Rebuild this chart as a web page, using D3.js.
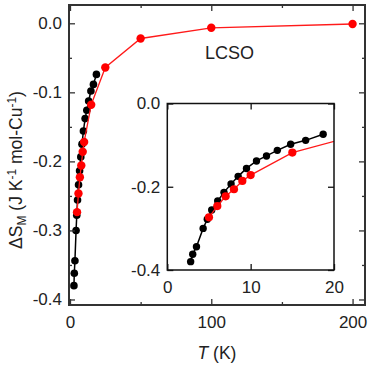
<!DOCTYPE html>
<html>
<head>
<meta charset="utf-8">
<script src="https://cdn.jsdelivr.net/npm/d3@7"></script>
<style>
  body { margin: 0; background: #fff; }
  svg text { font-family: "Liberation Sans", Arial, sans-serif; fill: #222; }
</style>
</head>
<body>
<svg id="chart"></svg>
<script>
// black series (T in K, dS in J/K/mol-Cu)
const blackT = [2.8, 3.05, 3.5, 4.3, 4.8, 5.33, 6.05, 6.8, 7.65, 8.5, 9.5, 10.7, 11.9, 13.2, 14.8, 16.6, 18.7];
const blackS = [-0.380, -0.362, -0.344, -0.300, -0.278, -0.256, -0.234, -0.2135, -0.1935, -0.175, -0.156, -0.138, -0.126, -0.1125, -0.098, -0.0885, -0.074];
// red series
const redT = [5, 6, 7, 8, 9, 10, 15, 25, 50, 100, 200];
const redS = [-0.2735, -0.2465, -0.223, -0.206, -0.186, -0.172, -0.118, -0.064, -0.022, -0.0065, -0.001];

const mainXTicks = [0, 100, 200];
const mainXMinor = [50, 150];
const mainYTicks = [0, -0.1, -0.2, -0.3, -0.4];
const mainYMinor = [-0.05, -0.15, -0.25, -0.35];
const insetXTicks = [0, 10, 20];
const insetYTicks = [0, -0.2, -0.4];

const W = 374, H = 366;
const svg = d3.select('#chart').attr('width', W).attr('height', H);

const black = blackT.map((t, i) => [t, blackS[i]]);
const red = redT.map((t, i) => [t, redS[i]]);

const fmt = d => d.toFixed(1);
const fmtInt = d => d.toString();

// ---- main plot ----
const x = d3.scaleLinear().domain([-0.7, 208.8]).range([69, 365]);
const y = d3.scaleLinear().domain([-0.408, 0.0265]).range([305, 5]);

function drawAxes(g, xs, ys, xt, yt, xm, ym, yFmt, xFmt, major, minor, pad, stroke) {
    const [x0, x1] = xs.range();
    const [y0, y1] = ys.range();
    const ax = (gen, tr, vals, size, lab) => {
        const a = g.append('g').attr('transform', tr)
            .call(gen.tickValues(vals).tickSize(size).tickPadding(pad).tickFormat(lab ? undefined : () => ''));
        a.select('.domain').remove();
        a.selectAll('line').attr('stroke', stroke).attr('stroke-width', 1.3);
        return a;
    };
    const bl = ax(d3.axisBottom(xs).tickFormat(xFmt), `translate(0,${y0})`, xt, -major, true);
    bl.selectAll('text').text(xFmt).attr('dy', '0.92em').style('font-size', '17px');
    ax(d3.axisBottom(xs), `translate(0,${y0})`, xm, -minor, false);
    ax(d3.axisTop(xs), `translate(0,${y1})`, xt, -major, false);
    ax(d3.axisTop(xs), `translate(0,${y1})`, xm, -minor, false);
    const ll = ax(d3.axisLeft(ys), `translate(${x0},0)`, yt, -major, true);
    ll.selectAll('text').text(yFmt).style('font-size', '17px');
    ax(d3.axisLeft(ys), `translate(${x0},0)`, ym, -minor, false);
    ax(d3.axisRight(ys), `translate(${x1},0)`, yt, -major, false);
    ax(d3.axisRight(ys), `translate(${x1},0)`, ym, -minor, false);
}

const main = svg.append('g');
main.append('rect').attr('x', 69).attr('y', 5).attr('width', 296).attr('height', 300)
    .attr('fill', '#fff');

const line = (xs, ys) => d3.line().x(d => xs(d[0])).y(d => ys(d[1]));

main.append('path').datum(black).attr('d', line(x, y))
    .attr('fill', 'none').attr('stroke', '#000').attr('stroke-width', 1.5);
main.selectAll('.bk').data(black).join('circle')
    .attr('cx', d => x(d[0])).attr('cy', d => y(d[1])).attr('r', 3.8).attr('fill', '#000');
main.append('path').datum(red).attr('d', line(x, y))
    .attr('fill', 'none').attr('stroke', '#ff1a1a').attr('stroke-width', 1.3);
main.selectAll('.rd').data(red).join('circle')
    .attr('cx', d => x(d[0])).attr('cy', d => y(d[1])).attr('r', 4.2).attr('fill', '#ff0000');

main.append('rect').attr('x', 69).attr('y', 5).attr('width', 296).attr('height', 300)
    .attr('fill', 'none').attr('stroke', '#333').attr('stroke-width', 2);
drawAxes(main, x, y, mainXTicks, mainYTicks, mainXMinor, mainYMinor, fmt, fmtInt, 6, 3, 7, '#333');

main.append('text').attr('x', 205).attr('y', 59).style('font-size', '18px').text('LCSO');

// axis titles
const xl = svg.append('text').attr('x', 217).attr('y', 359).attr('text-anchor', 'middle')
    .style('font-size', '17.5px');
xl.append('tspan').style('font-style', 'italic').text('T');
xl.append('tspan').text(' (K)');

const yl = svg.append('text').attr('transform', 'translate(22,170) rotate(-90)')
    .attr('text-anchor', 'middle').style('font-size', '17.5px');
yl.append('tspan').text('ΔS');
yl.append('tspan').attr('baseline-shift', '-4').style('font-size', '12px').text('M');
yl.append('tspan').text(' (J K');
yl.append('tspan').attr('baseline-shift', '6').style('font-size', '12px').text('-1');
yl.append('tspan').text(' mol-Cu');
yl.append('tspan').attr('baseline-shift', '6').style('font-size', '12px').text('-1');
yl.append('tspan').text(')');

// ---- inset ----
const ix = d3.scaleLinear().domain([0, 20]).range([167.3, 334]);
const iy = d3.scaleLinear().domain([-0.4, 0]).range([270, 103.5]);
const inset = svg.append('g');
inset.append('rect').attr('x', 167.3).attr('y', 103.5).attr('width', 166.7).attr('height', 166.5)
    .attr('fill', '#fff');
svg.append('clipPath').attr('id', 'iclip').append('rect')
    .attr('x', 167.3).attr('y', 103.5).attr('width', 166.7).attr('height', 166.5);
const ip = inset.append('g').attr('clip-path', 'url(#iclip)');
ip.append('path').datum(black).attr('d', line(ix, iy))
    .attr('fill', 'none').attr('stroke', '#000').attr('stroke-width', 1.5);
ip.selectAll('.bk').data(black).join('circle')
    .attr('cx', d => ix(d[0])).attr('cy', d => iy(d[1])).attr('r', 3.7).attr('fill', '#000');
ip.append('path').datum(red).attr('d', line(ix, iy))
    .attr('fill', 'none').attr('stroke', '#ff1a1a').attr('stroke-width', 1.3);
ip.selectAll('.rd').data(red).join('circle')
    .attr('cx', d => ix(d[0])).attr('cy', d => iy(d[1])).attr('r', 4.1).attr('fill', '#ff0000');
inset.append('rect').attr('x', 167.3).attr('y', 103.5).attr('width', 166.7).attr('height', 166.5)
    .attr('fill', 'none').attr('stroke', '#111').attr('stroke-width', 1.5);
drawAxes(inset, ix, iy, insetXTicks, insetYTicks, [], [], fmt, fmtInt, 6, 3, 7, '#111');
</script>
</body>
</html>
